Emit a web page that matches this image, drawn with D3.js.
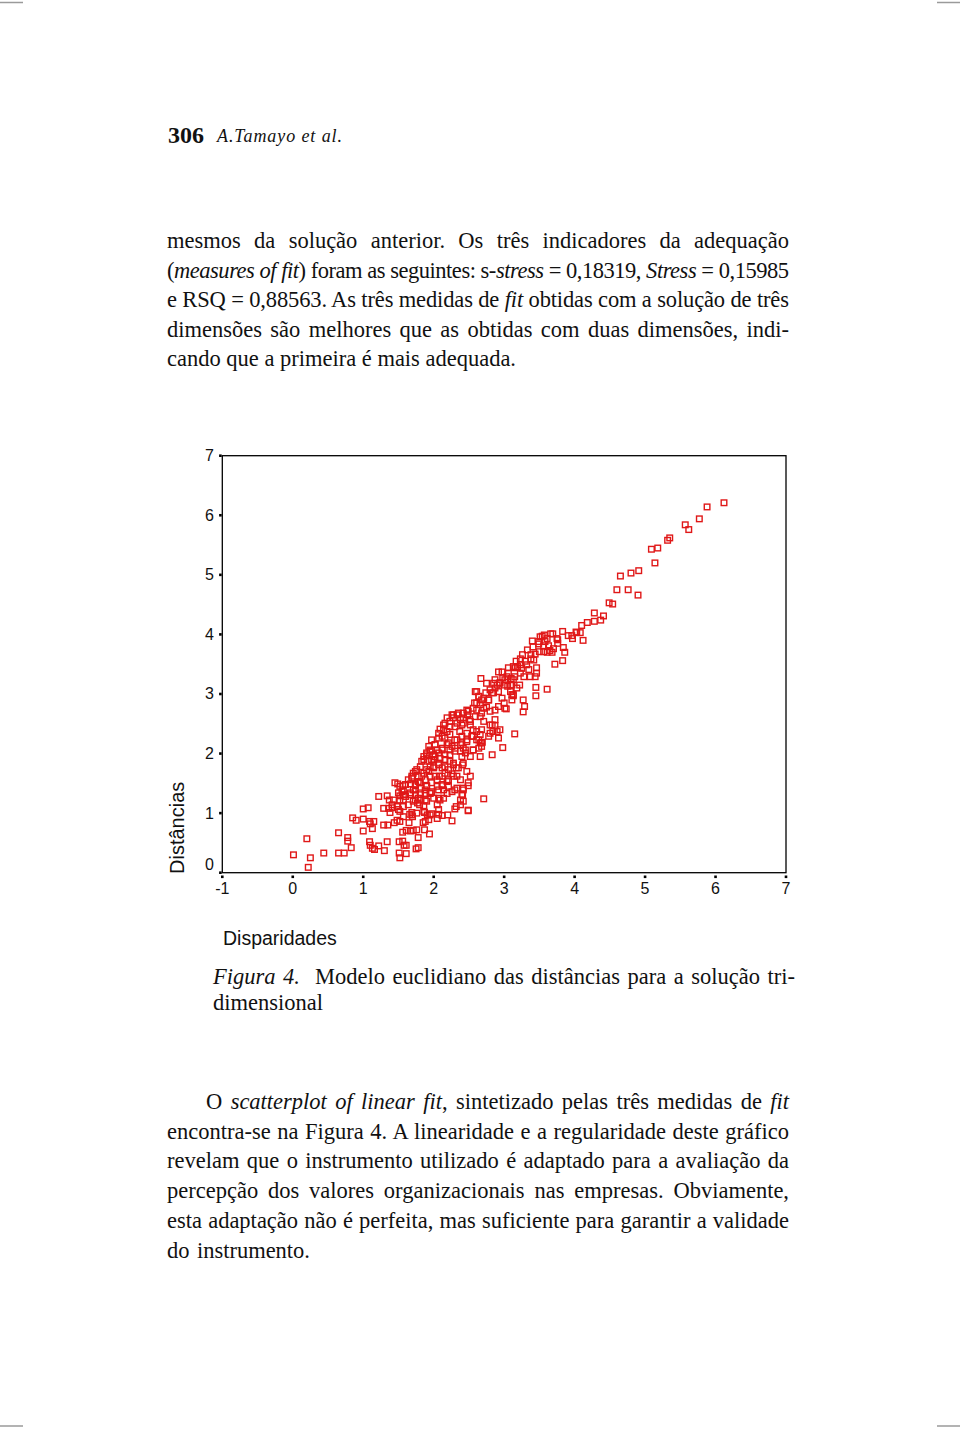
<!DOCTYPE html>
<html>
<head>
<meta charset="utf-8">
<script src="https://cdn.jsdelivr.net/npm/d3@7"></script>
<style>
  body { margin: 0; background: #fff; }
  svg { display: block; }
</style>
</head>
<body>
<div id="page"></div>
<script>
// Disparidades (x) and Distâncias (y)
const disparidades = [
  0.01,0.20,0.25,0.22,0.44,0.65,0.65,0.73,0.78,0.78,0.83,0.85,0.90,
  1.00,1.00,1.07,1.00,1.09,1.15,1.13,1.10,1.09,1.10,1.13,1.16,1.22,1.30,1.34,1.22,1.29,
  1.36,1.29,1.35,1.34,1.37,1.43,1.38,1.41,1.44,1.48,1.52,1.49,1.56,1.52,1.57,1.57,1.50,
  1.52,1.51,1.56,1.58,1.61,1.51,1.52,1.61,1.56,1.61,1.65,1.66,1.69,1.70,1.67,1.71,1.76,
  1.75,1.78,1.78,1.74,1.74,1.77,1.80,1.67,1.74,1.80,1.86,1.87,1.85,1.88,1.93,1.87,1.94,
  1.91,1.97,2.07,1.81,1.88,1.95,1.90,1.97,2.05,2.12,2.05,2.07,2.14,2.19,2.05,2.12,2.20,
  2.26,2.30,2.32,2.38,2.30,2.41,2.42,2.49,2.49,2.71,
  3.83,3.96,4.02,3.69,3.75,3.76,3.54,3.61,3.49,3.56,3.63,3.70,3.40,3.50,3.56,3.61,3.68,
  3.86,3.44,3.38,3.42,3.23,3.30,3.32,3.35,3.72,3.83,3.46,3.46,3.17,3.19,3.25,3.23,3.28,
  2.92,2.98,3.06,3.10,3.15,2.67,2.87,2.90,2.94,3.00,3.05,3.09,3.13,3.18,3.22,3.45,3.61,
  3.45,3.27,3.29,3.27,2.75,2.80,2.85,2.74,2.68,2.78,2.61,2.64,2.92,2.97,3.00,3.03,3.11,
  3.11,2.58,2.56,2.61,2.66,2.71,2.75,2.80,2.87,2.92,2.47,2.48,2.42,2.38,2.51,2.33,2.28,
  2.23,2.30,2.37,2.40,2.66,2.71,2.80,2.87,2.84,2.94,3.15,2.52,2.56,2.61,2.66,2.54,2.61,
  2.92,2.78,2.66,2.68,2.64,2.98,2.83,2.66,2.56,2.14,2.09,2.07,2.12,2.19,2.16,2.23,2.26,
  2.19,2.33,2.40,2.47,2.42,2.38,2.45,1.97,2.02,2.05,1.93,1.95,2.00,2.07,2.12,2.19,2.26,
  2.30,2.23,1.86,1.90,1.83,1.93,2.00,2.09,2.16,2.40,2.41,2.47,2.52,2.49,2.42,2.40,2.28,
  2.32,2.21,2.26,2.33,2.38,1.76,1.71,1.78,1.86,1.90,1.95,2.00,2.07,2.12,2.16,2.08,2.02,
  1.95,1.88,1.81,1.74,1.69,2.19,2.12,2.14,2.21,2.26,2.33,2.38,2.42,2.49,1.45,1.52,1.57,
  1.50,1.60,1.67,1.71,1.81,1.88,1.95,2.00,1.90,1.81,1.71,1.64,1.57,1.48,1.41,2.09,2.07,
  1.95,1.86,1.76,1.69,1.57,
  6.12,5.88,5.77,5.57,5.62,5.32,5.35,5.09,5.18,5.14,4.65,4.80,4.91,4.60,4.76,4.90,4.49,
  4.54,4.28,4.41,4.28,4.37,4.18,4.10,4.03,4.08,3.97,3.91,4.12,3.66,3.76,3.84,3.51,3.57,
  3.23,3.13,3.44,3.37,3.13,3.04,3.09,2.85,3.49,3.65,3.38,
  // dense core of the band
  2.28,2.35,2.42,2.49,2.61,2.59,2.64,2.71,2.78,2.83,2.87,2.94,3.01,3.11,3.13,3.01,2.87,
  2.83,2.90,2.80,2.68,2.64,2.69,2.56,2.47,2.40,2.30,2.21,2.14,2.16,2.23,2.33,2.42,2.52,
  2.59,2.68,2.07,2.02,1.95,1.90,1.86,1.81,1.74,1.69,1.64,1.60,2.12,2.16,2.23,2.30,2.38,
  2.45,2.42,2.35,2.28,2.23,2.16,2.07,2.00,1.93,1.83,1.78,2.02,1.97,2.28,2.21,2.12,2.05,
  1.90,1.97,2.07,1.74,1.67,1.55,1.52,1.78,1.88,2.56,2.52,2.68,2.47,
  3.33,3.41,3.58,3.26,3.16,3.06,2.97
];
const distancias = [
  0.30,0.57,0.25,0.09,0.33,0.67,0.33,0.33,0.59,0.53,0.42,0.92,0.88,
  0.70,1.07,1.09,0.90,0.86,0.86,0.74,0.82,0.52,0.46,0.41,0.39,0.45,0.37,0.52,1.28,1.08,
  1.08,0.80,0.80,1.29,1.22,1.22,1.01,1.09,0.84,0.88,0.86,1.49,1.46,1.29,1.31,1.22,1.06,
  1.03,0.52,0.53,0.46,0.46,0.33,0.25,0.32,0.68,0.71,0.84,0.98,1.01,0.94,0.70,0.71,0.72,
  0.40,0.42,0.59,1.31,1.22,1.17,1.14,1.49,1.46,1.51,1.12,1.01,0.84,0.86,0.89,0.72,0.65,
  0.97,0.99,0.98,1.31,1.33,1.33,1.46,1.51,1.45,1.46,1.14,1.25,1.25,1.33,0.91,0.96,0.97,
  0.87,1.07,1.11,1.14,1.39,1.31,1.39,1.04,1.46,1.24,
  4.05,3.98,4.04,4.01,3.93,3.85,3.97,3.93,3.88,3.81,3.81,3.76,3.89,3.71,3.71,3.70,3.70,
  3.70,3.67,3.59,3.57,3.59,3.55,3.49,3.41,3.50,3.56,3.44,3.35,3.55,3.46,3.43,3.35,3.29,
  3.37,3.27,3.35,3.26,3.29,3.26,3.24,3.15,3.19,3.15,3.13,3.04,2.97,3.10,3.15,3.11,3.08,
  2.97,2.90,2.79,2.70,3.18,3.07,3.02,3.02,2.90,2.90,3.04,2.96,3.04,2.93,2.85,2.75,2.90,
  2.99,2.85,2.76,2.73,2.82,2.76,2.78,2.71,2.73,2.79,2.73,2.65,2.60,2.57,2.57,2.65,2.60,
  2.54,2.45,2.37,2.48,2.62,2.54,2.48,2.47,2.37,2.40,2.33,2.48,2.40,2.37,2.32,2.29,2.23,
  2.26,2.29,2.18,2.12,2.09,2.10,1.98,1.95,2.06,2.48,2.41,2.34,2.29,2.37,2.26,2.32,2.65,
  2.60,2.23,2.18,2.23,2.09,2.04,2.01,2.23,2.15,2.06,2.12,2.04,1.98,2.01,2.09,2.15,2.12,
  2.04,1.98,1.95,2.01,1.87,1.87,1.90,1.92,1.90,1.95,1.81,1.70,1.62,1.51,1.42,1.31,1.84,
  1.76,1.73,1.66,1.62,1.56,1.73,1.67,1.62,1.67,1.73,1.78,1.76,1.81,1.76,1.67,1.62,1.62,
  1.62,1.56,1.51,1.48,1.59,1.53,1.48,1.39,1.45,1.36,1.42,1.22,1.20,1.05,1.51,1.45,1.39,
  1.34,1.28,1.34,1.39,1.34,1.39,1.34,1.25,1.20,1.22,1.20,1.14,1.11,1.11,1.14,1.22,1.06,
  0.97,1.03,1.00,0.97,0.94,
  6.21,6.14,5.94,5.84,5.76,5.58,5.62,5.43,5.45,5.20,4.98,5.03,5.07,4.75,4.75,4.66,4.53,
  4.51,4.36,4.31,4.22,4.24,4.20,4.15,4.03,4.03,3.93,3.98,3.90,4.01,3.91,3.78,3.96,3.99,
  3.49,3.46,3.29,3.29,3.24,3.29,3.15,3.18,3.84,3.73,3.66,
  // dense core of the band
  2.65,2.68,2.68,2.71,2.85,3.04,2.96,2.93,2.90,3.02,3.10,3.18,3.24,3.15,2.99,2.76,2.57,
  2.48,2.37,2.34,2.40,2.23,2.19,2.29,2.34,2.29,2.23,2.18,2.40,2.51,2.45,2.51,2.51,2.54,
  2.62,2.68,2.26,2.15,2.06,1.98,1.90,1.78,1.70,1.62,1.56,1.48,2.06,1.98,2.06,2.09,2.15,
  2.06,1.84,1.76,1.81,1.87,1.78,1.84,1.78,1.70,1.62,1.53,1.95,1.90,1.62,1.56,1.62,1.56,
  1.45,1.36,1.39,1.39,1.31,1.36,1.22,1.25,1.22,2.06,1.95,2.18,2.20,
  3.74,3.79,3.88,3.66,3.44,3.44,3.37
];
const xTicks = [-1, 0, 1, 2, 3, 4, 5, 6, 7];
const yTicks = [0, 1, 2, 3, 4, 5, 6, 7];

const para1 = [
  "mesmos da solução anterior. Os três indicadores da adequação",
  "(_measures of fit_) foram as seguintes: s-_stress_ = 0,18319, _Stress_ = 0,15985",
  "e RSQ = 0,88563. As três medidas de _fit_ obtidas com a solução de três",
  "dimensões são melhores que as obtidas com duas dimensões, indi-",
  "cando que a primeira é mais adequada."
];
const caption = [
  "_Figura 4._  Modelo euclidiano das distâncias para a solução tri-",
  "dimensional"
];
const para2 = [
  "O _scatterplot of linear fit_, sintetizado pelas três medidas de _fit_",
  "encontra-se na Figura 4. A linearidade e a regularidade deste gráfico",
  "revelam que o instrumento utilizado é adaptado para a avaliação da",
  "percepção dos valores organizacionais nas empresas. Obviamente,",
  "esta adaptação não é perfeita, mas suficiente para garantir a validade",
  "do instrumento."
];

const W = 960, H = 1429;
const serif = "'Liberation Serif', 'Times New Roman', serif";
const sans = "'Liberation Sans', Arial, sans-serif";

const svg = d3.select("#page").append("svg")
  .attr("width", W).attr("height", H);
svg.append("rect").attr("width", W).attr("height", H).attr("fill", "#fff");

// crop marks in the corners
[[0, 2.5], [937, 2.5], [0, 1426], [937, 1426]].forEach(function (m) {
  svg.append("line")
    .attr("x1", m[0]).attr("x2", m[0] + 23)
    .attr("y1", m[1]).attr("y2", m[1])
    .attr("stroke", "#9a9a9a").attr("stroke-width", 1.5);
});

// one line of running text fitted to width w; "_" toggles italic
function textLine(x, y, w, str, size) {
  const t = svg.append("text")
    .attr("x", x).attr("y", y)
    .attr("font-family", serif).attr("font-size", size)
    .attr("fill", "#111")
    .style("white-space", "pre");
  str.split("_").forEach(function (s, i) {
    if (s) t.append("tspan").attr("font-style", i % 2 ? "italic" : null).text(s);
  });
  const nat = t.node().getComputedTextLength();
  const plain = str.replace(/_/g, "");
  const spaces = (plain.match(/ /g) || []).length;
  if (nat < w && spaces) {
    t.style("word-spacing", ((w - nat) / spaces) + "px");
  } else if (nat > w) {
    t.style("letter-spacing", ((w - nat) / (plain.length - 1)) + "px");
  }
  return t;
}

// running header
svg.append("text")
  .attr("x", 168).attr("y", 143)
  .attr("font-family", serif).attr("font-size", 24).attr("font-weight", "bold")
  .attr("fill", "#111")
  .text("306");
svg.append("text")
  .attr("x", 217).attr("y", 142)
  .attr("font-family", serif).attr("font-size", 18).attr("font-style", "italic")
  .attr("fill", "#111")
  .attr("textLength", 125).attr("lengthAdjust", "spacing")
  .text("A.Tamayo et al.");

// paragraph above the figure
para1.forEach(function (s, i) {
  const last = i === para1.length - 1;
  textLine(167, 248 + i * 29.6, last ? 349 : 622, s, 22.5);
});

// ---- the scatterplot ----
const x = d3.scaleLinear().domain([-1, 7]).range([222.3, 786]);
const y = d3.scaleLinear().domain([0, 7]).range([872.7, 455.7]);

const plot = svg.append("g");

plot.append("rect")
  .attr("x", x(-1)).attr("y", y(7))
  .attr("width", x(7) - x(-1)).attr("height", y(0) - y(7))
  .attr("fill", "none").attr("stroke", "#000").attr("stroke-width", 1.3);

// points
const pts = disparidades.map(function (d, i) { return [d, distancias[i]]; });
const s = 5.6;
plot.append("g")
  .selectAll("rect")
  .data(pts)
  .enter()
  .append("rect")
  .attr("x", function (d) { return x(d[0]) - s / 2; })
  .attr("y", function (d) { return y(d[1]) - s / 2; })
  .attr("width", s).attr("height", s)
  .attr("fill", "none")
  .attr("stroke", "#e01818")
  .attr("stroke-width", 1.4);

// y ticks: small squares left of the axis
plot.append("g").selectAll("rect")
  .data(yTicks).enter().append("rect")
  .attr("x", x(-1) - 3.2).attr("y", function (d) { return y(d) - 1.3; })
  .attr("width", 2.6).attr("height", 2.6).attr("fill", "#000");
plot.append("g").selectAll("text")
  .data(yTicks).enter().append("text")
  .attr("x", 214)
  .attr("y", function (d) { return y(d) + (d === 0 ? -3 : 5.5); })
  .attr("text-anchor", "end")
  .attr("font-family", sans).attr("font-size", 16).attr("fill", "#111")
  .text(function (d) { return d; });

// x ticks: small squares below the axis
plot.append("g").selectAll("rect")
  .data(xTicks).enter().append("rect")
  .attr("x", function (d) { return x(d) - 1.3; }).attr("y", y(0) + 2.8)
  .attr("width", 2.6).attr("height", 2.6).attr("fill", "#000");
plot.append("g").selectAll("text")
  .data(xTicks).enter().append("text")
  .attr("x", function (d) { return x(d); })
  .attr("y", y(0) + 21.3)
  .attr("text-anchor", "middle")
  .attr("font-family", sans).attr("font-size", 16).attr("fill", "#111")
  .text(function (d) { return d; });

// axis titles
svg.append("text")
  .attr("transform", "translate(184,874) rotate(-90)")
  .attr("font-family", sans).attr("font-size", 20).attr("fill", "#111")
  .text("Distâncias");
svg.append("text")
  .attr("x", 223).attr("y", 945)
  .attr("font-family", sans).attr("font-size", 19.5).attr("fill", "#111")
  .text("Disparidades");

// caption
textLine(213, 984, 582, caption[0], 22.5);
textLine(213, 1010, 110, caption[1], 22.5);

// paragraph below the figure
para2.forEach(function (s, i) {
  const last = i === para2.length - 1;
  const x0 = i === 0 ? 206 : 167;
  textLine(x0, 1109 + i * 29.7, last ? 143 : 789 - x0, s, 22.5);
});
</script>
</body>
</html>
